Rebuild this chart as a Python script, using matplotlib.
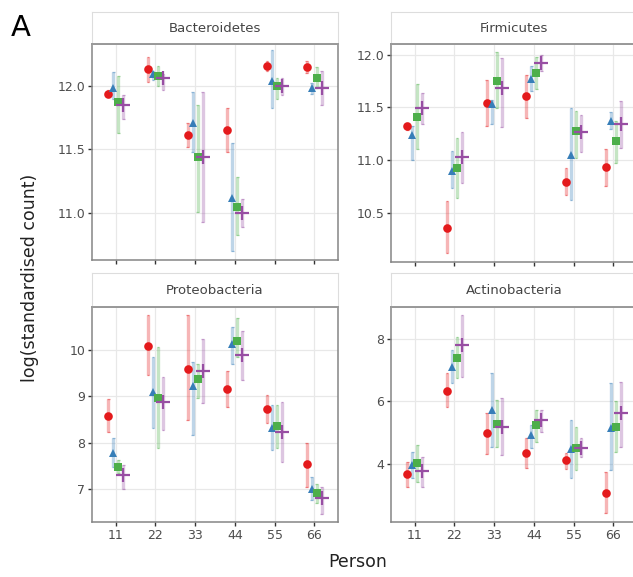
import numpy as np
import matplotlib.pyplot as plt

plt.rcParams['font.family'] = ['DejaVu Sans']

persons = ["11", "22", "33", "44", "55", "66"]
group_colors = ["#E41A1C", "#377EB8", "#4DAF4A", "#984EA3"]
group_markers = ["o", "^", "s", "+"]
dodge = [-0.1875, -0.0625, 0.0625, 0.1875]

# Bacteroidetes: rows = groups, columns = persons
bact_mean = [[11.94, 12.13, 11.61, 11.65, 12.16, 12.15],
             [11.98, 12.09, 11.71, 11.12, 12.04, 11.98],
             [11.87, 12.08, 11.44, 11.05, 12.00, 12.06],
             [11.85, 12.06, 11.44, 11.00, 12.00, 11.98]]
bact_low = [[11.91, 12.03, 11.52, 11.48, 12.12, 12.10],
            [11.90, 12.05, 11.48, 10.70, 11.83, 11.94],
            [11.63, 12.00, 11.01, 10.83, 11.90, 11.98],
            [11.74, 11.97, 10.93, 10.89, 11.93, 11.85]]
bact_high = [[11.97, 12.23, 11.71, 11.83, 12.20, 12.20],
             [12.11, 12.12, 11.95, 11.55, 12.28, 12.02],
             [12.08, 12.16, 11.85, 11.28, 12.06, 12.15],
             [11.93, 12.09, 11.95, 11.11, 12.06, 12.12]]

# Firmicutes
firm_mean = [[11.32, 10.35, 11.54, 11.61, 10.79, 10.93],
             [11.24, 10.89, 11.53, 11.77, 11.05, 11.37],
             [11.41, 10.92, 11.75, 11.82, 11.27, 11.18],
             [11.49, 11.03, 11.68, 11.92, 11.26, 11.34]]
firm_low = [[11.28, 10.12, 11.32, 11.40, 10.67, 10.75],
            [11.00, 10.73, 11.34, 11.65, 10.62, 11.29],
            [11.10, 10.64, 11.49, 11.67, 11.02, 10.97],
            [11.34, 10.78, 11.31, 11.84, 11.07, 11.11]]
firm_high = [[11.35, 10.61, 11.76, 11.81, 10.92, 11.10],
             [11.32, 11.08, 11.57, 11.89, 11.49, 11.45],
             [11.72, 11.21, 12.02, 11.98, 11.46, 11.37],
             [11.63, 11.26, 11.97, 12.00, 11.43, 11.56]]

# Proteobacteria
prot_mean = [[8.58, 10.09, 9.59, 9.17, 8.72, 7.54],
             [7.77, 9.10, 9.23, 10.14, 8.32, 7.01],
             [7.48, 8.97, 9.37, 10.19, 8.36, 6.92],
             [7.30, 8.87, 9.55, 9.89, 8.24, 6.80]]
prot_low = [[8.24, 9.46, 8.49, 8.78, 8.42, 7.05],
            [7.48, 8.32, 8.17, 9.71, 7.84, 6.76],
            [7.34, 7.88, 8.96, 9.86, 7.88, 6.69],
            [7.01, 8.27, 8.85, 9.35, 7.59, 6.47]]
prot_high = [[8.94, 10.76, 10.76, 9.55, 9.04, 7.99],
             [8.11, 9.86, 9.75, 10.50, 8.81, 7.27],
             [7.63, 10.07, 9.71, 10.70, 8.81, 7.12],
             [7.52, 9.42, 10.24, 10.41, 8.88, 7.05]]

# Actinobacteria
actn_mean = [[3.67, 6.34, 4.98, 4.34, 4.11, 3.06],
             [3.97, 7.11, 5.73, 4.91, 4.48, 5.16],
             [4.02, 7.38, 5.27, 5.25, 4.50, 5.17],
             [3.78, 7.81, 5.19, 5.41, 4.52, 5.62]]
actn_low = [[3.27, 5.83, 4.31, 3.86, 3.84, 2.42],
            [3.54, 6.58, 4.55, 4.50, 3.54, 3.81],
            [3.43, 6.74, 4.55, 4.71, 3.81, 4.39],
            [3.27, 6.79, 4.29, 5.03, 4.23, 4.55]]
actn_high = [[4.07, 6.90, 5.62, 4.82, 4.34, 3.75],
             [4.39, 7.65, 6.90, 5.25, 5.41, 6.58],
             [4.61, 8.07, 6.05, 5.73, 5.19, 6.00],
             [4.23, 8.77, 6.12, 5.73, 4.82, 6.63]]

panels = [
    ("Bacteroidetes", bact_mean, bact_low, bact_high, (10.63, 12.33), [11.0, 11.5, 12.0], "{:.1f}"),
    ("Firmicutes", firm_mean, firm_low, firm_high, (10.03, 12.10), [10.5, 11.0, 11.5, 12.0], "{:.1f}"),
    ("Proteobacteria", prot_mean, prot_low, prot_high, (6.29, 10.93), [7, 8, 9, 10], "{:.0f}"),
    ("Actinobacteria", actn_mean, actn_low, actn_high, (2.14, 9.02), [4, 6, 8], "{:.0f}"),
]

W, H = 633, 577
fig = plt.figure(figsize=(W / 100, H / 100), dpi=100)

# panel boxes in pixels: (left, right, strip_top, strip_bottom, panel_bottom)
boxes = [(92, 338, 12, 44, 260), (391, 637, 12, 44, 262),
         (92, 338, 273, 307, 522), (391, 637, 273, 307, 522)]

def fig_rect(l, r, t, b):
    return [l / W, 1 - b / H, (r - l) / W, (b - t) / H]

x = np.arange(1, len(persons) + 1)
for i, ((name, mean, low, high, ylim, yt, fmt), (l, r, st, sb, pb)) in enumerate(zip(panels, boxes)):
    ax = fig.add_axes(fig_rect(l, r, sb, pb))
    ax.set_xlim(0.4, 6.6)
    ax.set_ylim(*ylim)
    ax.set_yticks(yt)
    ax.set_yticklabels([fmt.format(v) for v in yt])
    ax.set_xticks(x)
    ax.set_xticklabels(persons if i >= 2 else [])
    ax.grid(True, color="#E8E8E8", lw=0.9)
    ax.set_axisbelow(True)
    for s in ax.spines.values():
        s.set_color("#858585")
        s.set_linewidth(1.1)
    ax.tick_params(length=3, width=1.0, color="#333333", labelsize=9,
                   labelcolor="#4D4D4D", pad=2)
    for g in range(4):
        m = np.asarray(mean[g])
        lo = np.asarray(low[g])
        hi = np.asarray(high[g])
        xs = x + dodge[g]
        c = group_colors[g]
        ax.vlines(xs, lo, hi, color=c, alpha=0.32, lw=2.4, zorder=2)
        ax.hlines(np.concatenate([lo, hi]), np.concatenate([xs, xs]) - 0.035,
                  np.concatenate([xs, xs]) + 0.035, color=c, alpha=0.5, lw=0.9, zorder=2)
        if group_markers[g] == "+":
            ax.plot(xs, m, ls="none", marker="+", ms=10, mew=1.6, color=c, zorder=3)
        else:
            ax.plot(xs, m, ls="none", marker=group_markers[g], ms=6.2, mew=0,
                    color=c, zorder=3)

    sax = fig.add_axes(fig_rect(l, r, st, sb))
    sax.set_xticks([])
    sax.set_yticks([])
    sax.set_facecolor("white")
    for k, s in sax.spines.items():
        s.set_color("#DDDDDD")
        s.set_linewidth(0.8)
    sax.spines["bottom"].set_color("#999999")
    sax.spines["bottom"].set_linewidth(1.4)
    sax.text(0.5, 0.5, name, ha="center", va="center", fontsize=9.5,
             color="#444444", transform=sax.transAxes)

fig.text(11 / W, 1 - 36 / H, "A", fontsize=21, ha="left", va="baseline")
fig.text(30 / W, 1 - 278 / H, "log(standardised count)", rotation=90,
         ha="center", va="center", fontsize=12.5, color="#222222")
fig.text(358 / W, 1 - 562 / H, "Person", ha="center", va="center", fontsize=12.5,
         color="#222222")

fig.savefig("out.png", dpi=100)
